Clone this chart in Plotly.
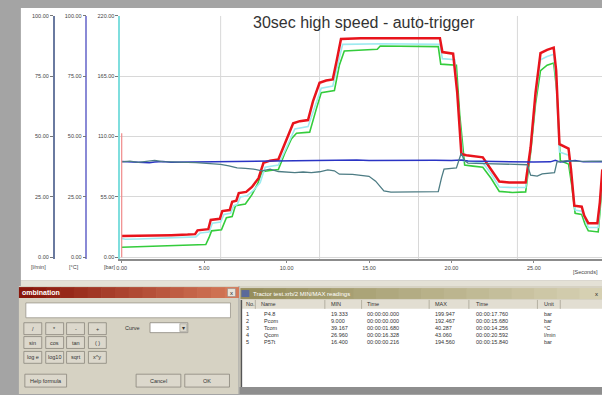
import plotly.graph_objects as go

W, H = 602, 395

# ---------------- data ----------------
p48_t = [0, 1, 2, 3, 4, 4.45, 4.6, 5.25, 5.4, 5.95, 6.1, 6.55, 6.7, 6.95, 7.1, 7.55, 7.9, 8.3, 8.6, 9.0, 9.5,
         9.8, 10.1, 10.4, 10.8, 11.3, 11.6, 12.0, 12.4, 12.8, 13.05, 13.3, 14.5, 16, 17.76, 19.3, 19.45, 20.1,
         20.35, 20.6, 20.9, 21.5, 21.9, 22.4, 22.9, 23.5, 24.5, 24.8, 25.1, 25.4, 25.8, 26.2, 26.35, 26.55,
         27.1, 27.25, 27.45, 27.9, 28.05, 28.3, 28.85, 29.0, 29.15]
p48_v = [19.4, 19.5, 19.8, 20.1, 20.6, 21, 24.5, 25.5, 34, 35, 42, 43, 50.5, 51.5, 58.5, 59.5, 64, 72, 86, 88, 89,
         100, 112, 122, 124, 125, 142, 159, 161, 162, 180, 199, 199.5, 199.6, 199.9, 199.5, 187, 185.5,
         150, 94, 93, 92, 91, 80, 69, 68, 68, 100, 150, 186, 189, 191, 170, 103,
         99, 80, 47, 46, 38, 31, 31, 50, 80]

pcom_t = [0, 1, 2, 3, 4, 5.1, 5.3, 5.45, 6.05, 6.35, 6.7, 6.9, 7.5, 7.9, 8.25, 8.5, 9.0, 9.5, 9.9, 10.3, 10.6,
          11.4, 11.8, 12.1, 12.9, 13.2, 13.5, 14.5, 15.5, 15.68, 17, 19.2, 19.35, 20.3, 20.5, 20.8, 21.3, 21.9,
          22.4, 22.9, 23.7, 24.5, 24.8, 25.1, 25.4, 25.8, 26.2, 26.4, 26.6, 27.1, 27.3, 27.5, 27.9, 28.1, 28.3,
          28.9, 29.0, 29.15]
pcom_v = [9.0, 9.5, 10, 10.5, 11, 11.5, 18, 24, 25, 36, 37, 47, 48.5, 57, 67, 78, 79, 80, 95, 108, 113,
          114, 135, 150, 152, 175, 188, 189, 189.5, 192.5, 192.3, 192, 176, 175, 130, 84, 83, 82,
          72, 60, 59, 59.5, 95, 140, 170, 175, 177, 150, 88, 85, 65, 40, 39, 30, 24,
          23, 40, 70]

p57_t = [0, 0.216, 1, 2, 3, 4, 4.5, 4.75, 5.3, 5.5, 6.0, 6.2, 6.6, 6.8, 7.0, 7.2, 7.6, 8.0, 8.4, 8.7, 9.5, 9.9,
         10.5, 11.3, 11.7, 12.1, 12.8, 13.1, 13.4, 15.84, 17, 19.3, 19.45, 20.2, 20.4, 20.7, 21.3, 21.9, 22.4,
         22.9, 23.7, 24.5, 24.8, 25.1, 25.4, 25.8, 26.2, 26.35, 26.55, 27.1, 27.3, 27.5, 27.9, 28.1, 28.3,
         28.9, 29.0, 29.15]
p57_v = [17, 16.4, 16.6, 17, 17.5, 18, 18.5, 22, 23, 31, 32, 39, 40, 47, 48, 55, 56, 61, 68, 82, 84, 97,
         117, 119, 136, 154, 156, 175, 194, 194.56, 194.3, 194, 181, 180, 140, 88, 87, 86, 76,
         64, 63.5, 63.5, 98, 145, 180, 183, 185, 160, 96, 93, 70, 43, 42, 34, 27,
         27, 45, 75]

qcom_t = [0, 0.5, 1, 1.5, 2, 2.5, 3, 3.5, 4, 4.5, 5, 5.5, 6, 6.5, 7, 7.5, 8, 8.5, 9.0, 9.5, 10, 10.5, 11, 11.5,
          12, 12.5, 12.9, 13.2, 14, 14.5, 15, 15.4, 15.9, 16.33, 17, 18, 19.2, 19.4, 19.55, 20.3, 20.59, 20.8,
          21, 22, 23, 24, 24.6, 24.8, 25.2, 25.5, 26.0, 26.25, 26.4, 27, 27.5, 28, 28.5, 29.15]
qcom_v = [39.5, 39.8, 39.3, 39.7, 40.1, 39.6, 39.4, 39.5, 39.3, 39.2, 39.0, 38.8, 38.5, 37.8, 37.0, 36.8, 36.5,
          35.8, 36.5, 35.5, 35.2, 35.0, 35.3, 35.0, 35.4, 36.2, 35.8, 34.4, 34.3, 33.8, 33.5, 31.5, 27.5, 26.96,
          27.0, 27.1, 27.2, 33, 36.5, 37, 43.06, 40, 39, 38.8, 38.6, 38.5, 38.3, 34, 33.6, 34.5, 34.8, 35, 39.5,
          40, 39.8, 39.9, 39.7, 39.8]

tcom_t = [0, 0.5, 1, 1.68, 2, 2.5, 3, 4, 5, 6, 7, 8, 9, 10, 11, 12, 13, 14.256, 15, 16, 17, 18, 19, 20, 20.6, 21,
          22, 23, 24, 25, 26, 26.3, 26.6, 27, 27.5, 28, 28.5, 29.15]
tcom_v = [39.6, 39.4, 39.5, 39.17, 39.4, 39.6, 39.3, 39.4, 39.5, 39.5, 39.6, 39.6, 39.7, 39.8, 39.9, 40.0, 40.1,
          40.29, 40.1, 40.2, 40.0, 40.1, 40.2, 40.1, 40.25, 39.9, 39.7, 39.6, 39.5, 39.4, 39.5, 40.2, 39.4, 39.6,
          40.1, 39.5, 39.7, 39.5]

x_ticks = [0, 5, 10, 15, 20, 25]
bar_ticks = [0, 55, 110, 165, 220]
pct_ticks = [0, 25, 50, 75, 100]
grid_t = [6, 12, 18, 24]

tbl_cols = ["No.", "Name", "MIN", "Time", "MAX", "Time", "Unit"]
tbl_rows = [
    ["1", "P4.8", "19.333", "00:00:00.000", "199.947", "00:00:17.760", "bar"],
    ["2", "Pcom", "9.000", "00:00:00.000", "192.467", "00:00:15.680", "bar"],
    ["3", "Tcom", "39.167", "00:00:01.680", "40.287", "00:00:14.256", "°C"],
    ["4", "Qcom", "26.960", "00:00:16.328", "43.060", "00:00:20.592", "l/min"],
    ["5", "P57t", "16.400", "00:00:00.216", "194.560", "00:00:15.840", "bar"],
]
btn_rows = [["/", "*", "-", "+"], ["sin", "cos", "tan", "( )"], ["log e", "log10", "sqrt", "x^y"]]

# ---------------- helpers ----------------
FONT = "Liberation Sans"
shapes = []
annos = []


def rect(x0, y0, x1, y1, fill, lc=None, lw=0, layer="above"):
    shapes.append(dict(type="rect", xref="paper", yref="paper", x0=x0 / W, x1=x1 / W,
                       y0=1 - y1 / H, y1=1 - y0 / H, fillcolor=fill, layer=layer,
                       line=dict(color=lc or fill, width=lw)))


def line(x0, y0, x1, y1, color, w=1, layer="above"):
    shapes.append(dict(type="line", xref="paper", yref="paper", x0=x0 / W, x1=x1 / W,
                       y0=1 - y0 / H, y1=1 - y1 / H, layer=layer, line=dict(color=color, width=w)))


def text(x, y, s, size=6, color="#333", anchor="left", bold=False, font=FONT):
    if bold:
        s = "<b>" + s + "</b>"
    annos.append(dict(xref="paper", yref="paper", x=x / W, y=1 - y / H, text=s, showarrow=False,
                      xanchor=anchor, yanchor="middle", font=dict(family=font, size=size, color=color)))


def lerp(c0, c1, f):
    return "#%02x%02x%02x" % tuple(int(c0[i] + (c1[i] - c0[i]) * f) for i in range(3))


def gradient(x0, y0, x1, y1, c0, c1, n=16):
    step = (x1 - x0) / n
    for i in range(n):
        rect(x0 + i * step, y0, x0 + (i + 1) * step + 0.6, y1, lerp(c0, c1, i / (n - 1)))


# main window
rect(17, 5, 602, 280, "#ffffff", layer="below")
rect(17, 280, 602, 286, "#e4e1d6", layer="below")

# ---------------- figure ----------------
fig = go.Figure()
fig.add_trace(go.Scatter(x=qcom_t, y=qcom_v, yaxis="y3", mode="lines", name="Qcom",
                         line=dict(color="#4d7c84", width=1.3)))
fig.add_trace(go.Scatter(x=tcom_t, y=tcom_v, yaxis="y2", mode="lines", name="Tcom",
                         line=dict(color="#2a34c4", width=1.5)))
fig.add_trace(go.Scatter(x=pcom_t, y=pcom_v, mode="lines", name="Pcom",
                         line=dict(color="#34cc3c", width=1.6)))
fig.add_trace(go.Scatter(x=p57_t, y=p57_v, mode="lines", name="P57t",
                         line=dict(color="#9eeaf0", width=1.6)))
fig.add_trace(go.Scatter(x=p48_t, y=p48_v, mode="lines", name="P4.8",
                         line=dict(color="#e8141c", width=2.5)))

# vertical grid (every 6 s) and start marker
for g in grid_t:
    shapes.append(dict(type="line", xref="x", yref="y", x0=g, x1=g, y0=-2, y1=220, layer="below",
                       line=dict(color="#d8d8d8", width=1)))
shapes.append(dict(type="line", xref="x", yref="y", x0=0, x1=0, y0=0, y1=113, layer="above",
                   line=dict(color="#f08a8a", width=1.2)))

# title and units
text(362, 20, "30sec high speed - auto-trigger", size=16, color="#333", anchor="center")
text(35, 267, "[l/min]", size=5.5, color="#444", anchor="center")
text(70, 267, "[°C]", size=5.5, color="#444", anchor="center")
text(106, 267, "[bar]", size=5.5, color="#444", anchor="center")
text(600, 272, "[Seconds]", size=5.5, color="#444", anchor="right")

# ---------------- combination dialog ----------------
rect(15, 286, 236, 395, "#d6d2c3")
gradient(15, 287, 236, 298, (136, 22, 10), (212, 120, 88))
text(16, 292.5, "ombination", size=7, color="#ffffff", bold=True)
rect(225, 288.5, 233, 296.5, "#e8e4da", "#888", 0.5)
text(229, 292.5, "x", size=6, color="#222", anchor="center")
rect(22, 303, 228, 318, "#ffffff", "#9a978c", 0.8)
bx = [20, 42, 63, 85]
bw = 18
by = [323, 337, 352]
for r, row in enumerate(btn_rows):
    for c, lab in enumerate(row):
        rect(bx[c], by[r], bx[c] + bw, by[r] + 12, "#dcd8cc", "#8a877c", 0.8)
        text(bx[c] + bw / 2, by[r] + 6, lab, size=5.5, color="#333", anchor="center")
text(120, 328, "Curve", size=5.5, color="#333")
rect(147, 323, 185, 333, "#ffffff", "#8a877c", 0.8)
rect(177, 324, 184, 332, "#dcd8cc", "#8a877c", 0.5)
text(180.5, 328, "▾", size=6, color="#333", anchor="center")
rect(21, 375, 63, 388, "#dcd8cc", "#8a877c", 0.8)
text(42, 381.5, "Help formula", size=5.5, color="#333", anchor="center")
rect(133, 375, 178, 388, "#dcd8cc", "#8a877c", 0.8)
text(155.5, 381.5, "Cancel", size=5.5, color="#333", anchor="center")
rect(182, 375, 227, 388, "#dcd8cc", "#8a877c", 0.8)
text(204.5, 381.5, "OK", size=5.5, color="#333", anchor="center")

# ---------------- MIN/MAX table window ----------------
rect(237, 286, 602, 395, "#d6d2c3")
gradient(238, 288, 602, 299, (150, 142, 92), (214, 208, 178))
rect(239, 290, 247, 297, "#5a6a9a")
text(249, 293.5, "Tractor test.xrb/2 MIN/MAX readings", size=6, color="#ffffff")
text(596, 293.5, "x", size=6, color="#222", anchor="center")
rect(239, 300, 602, 388, "#ffffff")
rect(239, 300, 602, 309, "#e2ded2")
sep_x = [253, 323, 360, 428, 468, 537, 560]
for s in sep_x:
    line(s, 300, s, 309, "#a8a496", 0.8)
col_x = [242, 257, 327, 363, 432, 473, 542]
for cx, lab in zip(col_x, tbl_cols):
    text(cx, 304.5, lab, size=5.5, color="#333")
row_y = [314, 321, 328, 335, 342]
for ry, row in zip(row_y, tbl_rows):
    for i, (cx, val) in enumerate(zip(col_x, row)):
        text(cx + (3 if i == 1 else 0), ry, val, size=5.5, color="#333")
line(239, 300, 239, 388, "#555", 1.5)
rect(237, 388, 602, 395, "#8e8e8e")

fig.update_layout(
    width=W, height=H, margin=dict(l=0, r=0, t=0, b=0),
    paper_bgcolor="#a4a4a4", plot_bgcolor="rgba(0,0,0,0)",
    showlegend=False,
    xaxis=dict(domain=[117 / W, 1], range=[-0.09, 29.13], tickvals=x_ticks,
               ticktext=["%.2f" % v for v in x_ticks], showgrid=False, zeroline=False,
               showline=True, linecolor="#8c8c8c", linewidth=2, ticks="outside", ticklen=2,
               tickcolor="#888", tickfont=dict(family=FONT, size=5.5, color="#444")),
    yaxis=dict(domain=[1 - 259 / H, 1 - 13 / H], range=[-2, 220], tickvals=bar_ticks,
               ticktext=["%.2f" % v for v in bar_ticks], showgrid=True, gridcolor="#d8d8d8",
               zeroline=False, showline=True, linecolor="#7fdede", linewidth=1.5, ticks="outside",
               ticklen=3, tickcolor="#777", tickfont=dict(family=FONT, size=5.5, color="#444")),
    yaxis2=dict(overlaying="y", anchor="free", position=83 / W, side="left", range=[-0.909, 100],
                tickvals=pct_ticks, ticktext=["%.2f" % v for v in pct_ticks], showgrid=False,
                zeroline=False, showline=True, linecolor="#8a8ad6", linewidth=1.5, ticks="outside",
                ticklen=3, tickcolor="#777", tickfont=dict(family=FONT, size=5.5, color="#444")),
    yaxis3=dict(overlaying="y", anchor="free", position=50 / W, side="left", range=[-0.909, 100],
                tickvals=pct_ticks, ticktext=["%.2f" % v for v in pct_ticks], showgrid=False,
                zeroline=False, showline=True, linecolor="#6a7aa0", linewidth=1.5, ticks="outside",
                ticklen=3, tickcolor="#777", tickfont=dict(family=FONT, size=5.5, color="#444")),
    shapes=shapes, annotations=annos,
)

fig.write_html("out.html")
